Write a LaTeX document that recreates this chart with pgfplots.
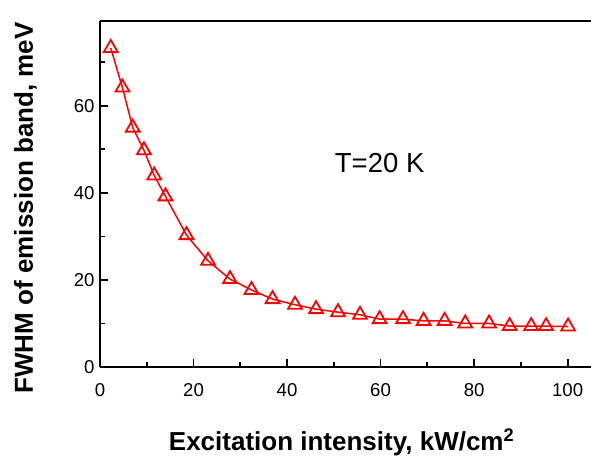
\documentclass[border=0pt]{standalone}
\usepackage{fontspec}
\setmainfont{Liberation Sans}
\usepackage{pgfplots}
\pgfplotsset{compat=1.18}
\usetikzlibrary{calc}
\definecolor{datared}{HTML}{FF0000}

\begin{document}
\begin{tikzpicture}
\begin{axis}[
  scale only axis,width=491bp,height=346bp,
  xmin=0,xmax=105,ymin=0,ymax=79.5,
  axis x line*=bottom,axis y line*=left,
  xtick={0,20,40,60,80,100},ytick={0,20,40,60},
  minor xtick={10,30,50,70,90},minor ytick={10,30,50,70},
  tick align=inside,
  major tick length=8bp,minor tick length=5bp,
  major tick style={draw=black,line width=1.8bp},
  minor tick style={draw=black,line width=1.8bp},
  axis line style={draw=black,line width=2.5bp},
  /pgf/number format/assume math mode=true,
  tick label style={font=\fontsize{18.6bp}{20bp}\selectfont},
  xticklabel style={yshift=-13bp},
  yticklabel style={xshift=-2bp},
  xlabel={\textbf{Excitation intensity, kW/cm\textsuperscript{2}}},
  ylabel={\textbf{FWHM of emission band, meV}},
  label style={font=\fontsize{26bp}{28bp}\selectfont},
  xlabel style={at={(axis description cs:0.492,0)},anchor=base,yshift=-83bp},
  ylabel style={at={(axis description cs:0,0.46)},anchor=base,yshift=67bp},
  clip=false
]
\draw[black,line width=2.5bp] (rel axis cs:0,1) -- (rel axis cs:1,1);
\addplot[datared,line width=1.5bp,mark=triangle,mark size=8bp,
  mark options={solid,fill=white,line width=1.8bp}] coordinates {
  (2.3,73.3) (4.8,64.2) (7.0,55.0) (9.4,49.8) (11.6,44.0) (14.0,39.2)
  (18.5,30.3) (23.1,24.4) (27.8,20.2) (32.4,17.7) (36.9,15.6) (41.7,14.3)
  (46.2,13.3) (50.9,12.6) (55.6,12.0) (59.8,11.0) (64.8,11.0) (69.2,10.6)
  (73.7,10.6) (78.1,10.0) (83.2,10.0) (87.6,9.4) (92.2,9.4) (95.4,9.4)
  (100.1,9.3)
};
\node[anchor=base west,inner sep=0pt,font=\fontsize{27.5bp}{29bp}\selectfont] at (axis cs:50.2,44.6) {T=20 K};
\end{axis}
\pgfresetboundingbox
\useasboundingbox ($(current axis.south west)+(-100bp,-90bp)$) rectangle ($(current axis.north east)+(0bp,21bp)$);
\end{tikzpicture}
\end{document}
